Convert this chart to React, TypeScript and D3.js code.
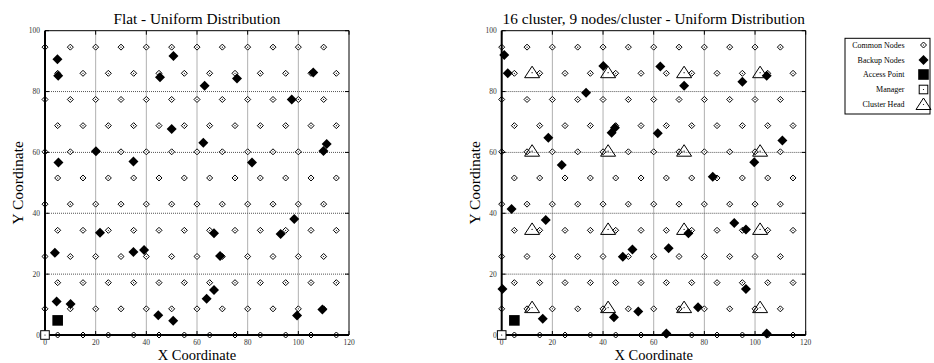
import React from 'react';
import * as d3 from 'd3';

// ---------- data ----------
const xTicks = [0, 20, 40, 60, 80, 100, 120];
const yTicks = [0, 20, 40, 60, 80, 100];

// common nodes lattice: row heights and the x positions used by even / odd rows
const commonRowY = [0, 8.6, 17.2, 25.8, 34.4, 43.0, 51.6, 60.2, 68.8, 77.4, 86.0, 94.6];
const commonXEvenRow = [5, 15, 25, 35, 45, 55, 65, 75, 85, 95, 105, 115];
const commonXOddRow = [0, 10, 20, 30, 40, 50, 60, 70, 80, 90, 100, 110];

const flatBackupX = [4.9, 5.2, 45.4, 50.7, 63.0, 75.8, 97.4, 105.9, 50.0, 62.5, 20.1, 5.3, 34.9, 81.7, 111.2, 109.9,
  3.9, 21.7, 34.9, 39.1, 66.7, 69.1, 93.0, 98.4, 4.6, 10.1, 44.7, 50.6, 63.8, 66.7, 99.5, 109.5];
const flatBackupY = [90.6, 85.2, 84.7, 91.7, 81.9, 84.3, 77.4, 86.3, 67.7, 63.2, 60.4, 56.7, 57.0, 56.7, 62.8, 60.5,
  27.0, 33.6, 27.3, 27.9, 33.4, 26.0, 33.2, 38.1, 11.0, 10.2, 6.5, 4.7, 11.9, 14.8, 6.4, 8.4];

const clusterBackupX = [1.0, 2.4, 40.1, 33.3, 18.4, 23.7, 44.7, 43.4, 62.6, 72.0, 61.6, 83.3, 95.0, 99.7, 104.6, 110.8,
  3.9, 17.4, 0.3, 16.2, 47.8, 51.6, 44.3, 53.9, 65.9, 73.7, 65.0, 77.5, 91.8, 96.4, 96.4, 104.6];
const clusterBackupY = [92.0, 86.0, 88.4, 79.6, 64.8, 55.9, 68.1, 66.5, 88.2, 81.9, 66.3, 52.0, 83.2, 56.8, 85.2, 63.9,
  41.4, 37.8, 15.1, 5.3, 25.7, 28.1, 5.8, 7.7, 28.5, 33.4, 0.5, 9.1, 36.8, 34.7, 15.1, 0.5];

const clusterHeadX = [12, 42, 72, 102];
const clusterHeadY = [86.2, 60.4, 34.7, 9.0];

const accessPoint = { x: 5, y: 4.8 };
const manager = { x: 0, y: 0 };

const legendLabels = ['Common Nodes', 'Backup Nodes', 'Access Point', 'Manager', 'Cluster Head'];

const titles = ['Flat - Uniform Distribution', '16 cluster, 9 nodes/cluster - Uniform Distribution'];

// ---------- drawing helpers ----------
const FONT = '"Liberation Serif", "Times New Roman", serif';

const diamond = (x: number, y: number, r: number) =>
  `M${x},${y - r}L${x + r},${y}L${x},${y + r}L${x - r},${y}Z`;
const triangle = (x: number, y: number) =>
  `M${x},${y - 6.5}L${x + 7.5},${y + 5}L${x - 7.5},${y + 5}Z`;

const CommonMark = ({ x, y }: { x: number; y: number }) => (
  <g>
    <path d={diamond(x, y, 3)} fill="#fff" stroke="#000" strokeWidth={1} />
    <circle cx={x} cy={y} r={0.6} fill="#000" />
  </g>
);
const BackupMark = ({ x, y }: { x: number; y: number }) => (
  <path d={diamond(x, y, 5)} fill="#000" />
);
const APMark = ({ x, y }: { x: number; y: number }) => (
  <rect x={x - 5.3} y={y - 5.3} width={10.6} height={10.6} fill="#000" />
);
const ManagerMark = ({ x, y }: { x: number; y: number }) => (
  <g>
    <rect x={x - 4.3} y={y - 4.3} width={8.6} height={8.6} fill="#fff" stroke="#000" strokeWidth={1} />
    <circle cx={x} cy={y} r={0.6} fill="#000" />
  </g>
);
const HeadMark = ({ x, y }: { x: number; y: number }) => (
  <g>
    <path d={triangle(x, y)} fill="none" stroke="#000" strokeWidth={1} />
    <circle cx={x} cy={y} r={0.6} fill="#000" />
  </g>
);

type PanelProps = {
  left: number;
  right: number;
  title: string;
  bx: number[];
  by: number[];
  heads: boolean;
};

const TOP = 30.7;
const BOTTOM = 335;

function Panel({ left, right, title, bx, by, heads }: PanelProps) {
  const x = d3.scaleLinear().domain([0, 120]).range([left, right]);
  const y = d3.scaleLinear().domain([0, 100]).range([BOTTOM, TOP]);

  const common: { x: number; y: number }[] = [];
  commonRowY.forEach((ry, i) => {
    const xs = i % 2 === 0 ? commonXEvenRow : commonXOddRow;
    xs.forEach((cx) => common.push({ x: cx, y: ry }));
  });

  const headPts: { x: number; y: number }[] = [];
  if (heads) clusterHeadY.forEach((hy) => clusterHeadX.forEach((hx) => headPts.push({ x: hx, y: hy })));

  const cxm = (left + right) / 2;
  const cym = (TOP + BOTTOM) / 2;

  return (
    <g>
      {/* grid */}
      {xTicks.slice(1, -1).map((t) => (
        <line key={'gx' + t} x1={x(t)} x2={x(t)} y1={TOP} y2={BOTTOM} stroke="#b0b0b0" strokeWidth={1} />
      ))}
      {yTicks.slice(1, -1).map((t) => (
        <line key={'gy' + t} x1={left} x2={right} y1={y(t)} y2={y(t)} stroke="#555" strokeWidth={1} strokeDasharray="1,1" />
      ))}

      {/* common nodes */}
      {common.map((p, i) => (
        <CommonMark key={'c' + i} x={x(p.x)} y={y(p.y)} />
      ))}
      {/* cluster heads */}
      {headPts.map((p, i) => (
        <HeadMark key={'h' + i} x={x(p.x)} y={y(p.y)} />
      ))}
      {/* backups */}
      {bx.map((v, i) => (
        <BackupMark key={'b' + i} x={x(v)} y={y(by[i])} />
      ))}
      <APMark x={x(accessPoint.x)} y={y(accessPoint.y)} />

      {/* frame */}
      <line x1={left} x2={right} y1={TOP} y2={TOP} stroke="#000" strokeWidth={1} />
      <line x1={right} x2={right} y1={TOP} y2={BOTTOM} stroke="#000" strokeWidth={1} />
      <line x1={left} x2={left} y1={TOP} y2={BOTTOM} stroke="#000" strokeWidth={2} />
      <line x1={left} x2={right} y1={BOTTOM} y2={BOTTOM} stroke="#000" strokeWidth={2} />

      {/* ticks */}
      {xTicks.map((t) => (
        <g key={'tx' + t}>
          <line x1={x(t)} x2={x(t)} y1={TOP} y2={TOP + 4} stroke="#000" />
          <line x1={x(t)} x2={x(t)} y1={BOTTOM} y2={BOTTOM - 4} stroke="#000" />
          <text x={x(t)} y={BOTTOM + 9.5} textAnchor="middle" fontSize={7.5} fontFamily={FONT} fill="#333">
            {t}
          </text>
        </g>
      ))}
      {yTicks.map((t) => (
        <g key={'ty' + t}>
          <line x1={left} x2={left + 4} y1={y(t)} y2={y(t)} stroke="#000" />
          <line x1={right} x2={right - 4} y1={y(t)} y2={y(t)} stroke="#000" />
          <text x={left - 5} y={y(t) + 2.6} textAnchor="end" fontSize={7.5} fontFamily={FONT} fill="#333">
            {t}
          </text>
        </g>
      ))}

      <ManagerMark x={x(manager.x)} y={y(manager.y)} />

      {/* titles */}
      <text x={cxm} y={24} textAnchor="middle" fontSize={15.3} fontFamily={FONT} fill="#000">
        {title}
      </text>
      <text x={cxm} y={359.8} textAnchor="middle" fontSize={14.5} fontFamily={FONT} fill="#000">
        X Coordinate
      </text>
      <text
        transform={`translate(${left - 22},${cym}) rotate(-90)`}
        textAnchor="middle"
        fontSize={15.5}
        fontFamily={FONT}
        fill="#000"
      >
        Y Coordinate
      </text>
    </g>
  );
}

function Legend() {
  const lx = 845;
  const ly = 38.3;
  const w = 85;
  const h = 75.7;
  const rows = [45, 60, 74.5, 89.5, 104.5];
  const mx = 923.5;
  return (
    <g>
      <rect x={lx} y={ly} width={w} height={h} fill="#fff" stroke="#000" strokeWidth={1} />
      {legendLabels.map((lab, i) => (
        <text key={lab} x={904.5} y={rows[i] + 2.8} textAnchor="end" fontSize={8} fontFamily={FONT} fill="#000">
          {lab}
        </text>
      ))}
      <CommonMark x={mx} y={rows[0]} />
      <BackupMark x={mx} y={rows[1]} />
      <APMark x={mx} y={rows[2]} />
      <ManagerMark x={mx} y={rows[3]} />
      <HeadMark x={mx} y={rows[4]} />
    </g>
  );
}

export default function App() {
  return (
    <svg
      width={934}
      height={363}
      style={{ position: 'absolute', left: 0, top: 0, background: '#fff' }}
      xmlns="http://www.w3.org/2000/svg"
    >
      <rect x={0} y={0} width={934} height={363} fill="#fff" />
      <Panel left={45} right={349} title={titles[0]} bx={flatBackupX} by={flatBackupY} heads={false} />
      <Panel left={501.7} right={805.7} title={titles[1]} bx={clusterBackupX} by={clusterBackupY} heads={true} />
      <Legend />
    </svg>
  );
}
